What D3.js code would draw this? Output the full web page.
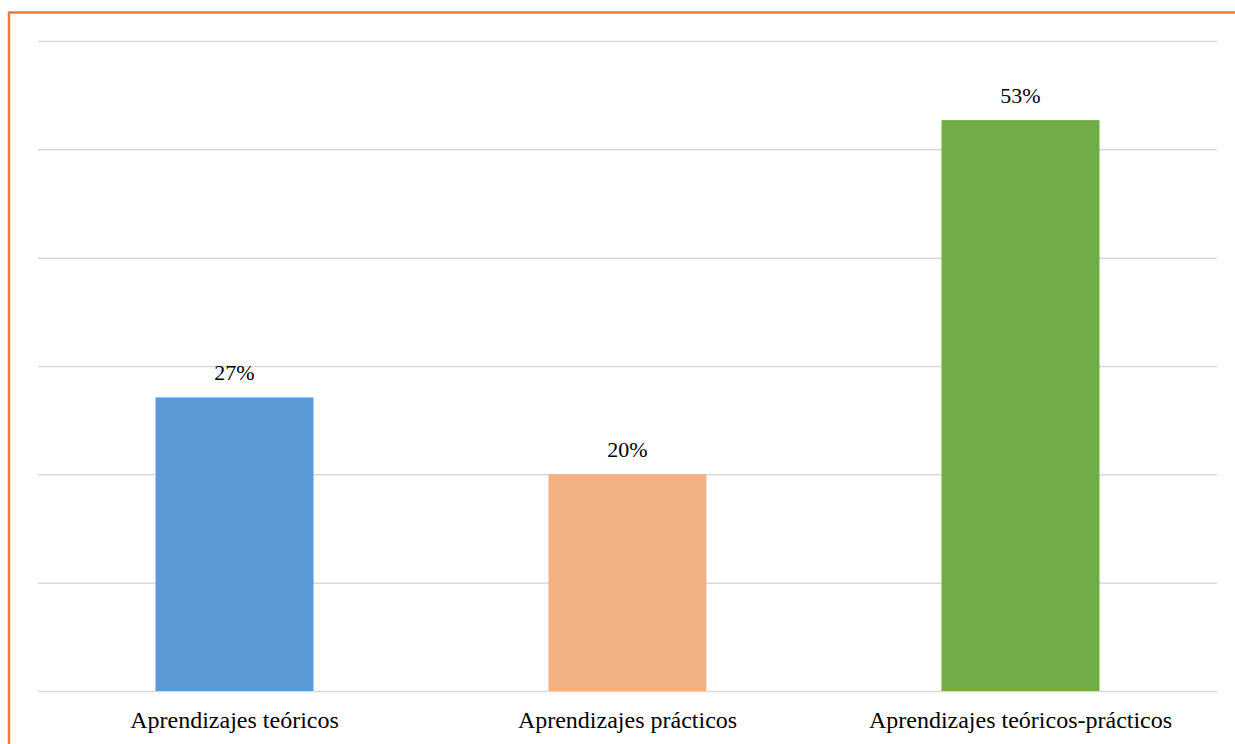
<!DOCTYPE html>
<html>
<head>
<meta charset="utf-8">
<script src="https://cdn.jsdelivr.net/npm/d3@7"></script>
<style>
  html, body { margin: 0; padding: 0; background: #fff; }
  svg { display: block; }
</style>
</head>
<body>
<svg id="chart" width="1235" height="744"></svg>
<script>
const categories = ["Aprendizajes teóricos", "Aprendizajes prácticos", "Aprendizajes teóricos-prácticos"];
const values = [27.1, 20, 52.7];
const labels = ["27%", "20%", "53%"];
const colors = ["#5B9BD5", "#F4B183", "#70AD47"];
const yTicks = [0, 10, 20, 30, 40, 50, 60];

const svg = d3.select("#chart");
const W = 1235, H = 744;
const margin = { left: 38, right: 18, top: 41, bottom: 53 };
const plotW = W - margin.left - margin.right;
const plotH = H - margin.top - margin.bottom;
const serif = "'Liberation Serif', 'Times New Roman', serif";

svg.append("rect").attr("width", W).attr("height", H).attr("fill", "#fff");

// orange frame (extends past the right and bottom edges)
svg.append("rect")
  .attr("x", 9).attr("y", 12.5)
  .attr("width", W + 20).attr("height", H + 20)
  .attr("fill", "none").attr("stroke", "#ED7D31").attr("stroke-width", 2.5);

const g = svg.append("g").attr("transform", `translate(${margin.left},${margin.top})`);

const x = d3.scaleBand().domain(categories).range([0, plotW]).paddingInner(0.598).paddingOuter(0.299);
const y = d3.scaleLinear().domain([0, 60]).range([plotH, 0]);

// gridlines
const yAxis = d3.axisLeft(y).tickValues(yTicks).tickSize(-plotW).tickFormat("");
const ga = g.append("g").call(yAxis);
ga.select(".domain").remove();
ga.selectAll(".tick line").attr("stroke", "#D9D9D9").attr("stroke-width", 1.5);

// bars
g.selectAll("rect.bar").data(categories).join("rect")
  .attr("class", "bar")
  .attr("x", d => x(d))
  .attr("width", x.bandwidth())
  .attr("y", (d, i) => y(values[i]))
  .attr("height", (d, i) => plotH - y(values[i]))
  .attr("fill", (d, i) => colors[i]);

// value labels
g.selectAll("text.val").data(categories).join("text")
  .attr("class", "val")
  .attr("x", d => x(d) + x.bandwidth() / 2)
  .attr("y", (d, i) => y(values[i]) - 17)
  .attr("text-anchor", "middle")
  .style("font-family", serif)
  .style("font-size", "22px")
  .attr("fill", "#000")
  .text((d, i) => labels[i]);

// category axis
const xAxis = d3.axisBottom(x).tickSize(0).tickPadding(0);
const gx = g.append("g").attr("transform", `translate(0,${plotH})`).call(xAxis);
gx.select(".domain").remove();
gx.attr("font-family", null).attr("font-size", null);
gx.selectAll(".tick text")
  .attr("dy", 0).attr("y", 37)
  .style("font-family", serif)
  .style("font-size", "24px")
  .attr("fill", "#000");
</script>
</body>
</html>
